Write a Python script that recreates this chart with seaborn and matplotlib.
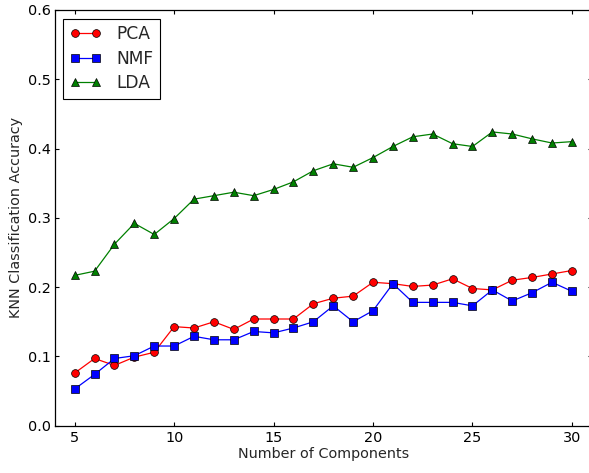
import matplotlib
matplotlib.use('Agg')
import matplotlib.pyplot as plt
import pandas as pd
import seaborn as sns

# Accuracy values
components = list(range(5, 31))
pca = [0.076, 0.097, 0.087, 0.099, 0.106, 0.143, 0.141, 0.150, 0.139, 0.154,
       0.154, 0.154, 0.176, 0.184, 0.187, 0.207, 0.205, 0.201, 0.203, 0.212,
       0.198, 0.196, 0.210, 0.214, 0.219, 0.224]
nmf = [0.053, 0.074, 0.097, 0.101, 0.115, 0.115, 0.129, 0.124, 0.124, 0.136,
       0.134, 0.141, 0.150, 0.173, 0.150, 0.166, 0.205, 0.178, 0.178, 0.178,
       0.173, 0.196, 0.180, 0.192, 0.207, 0.194]
lda = [0.217, 0.223, 0.262, 0.292, 0.276, 0.299, 0.327, 0.332, 0.337, 0.332,
       0.341, 0.352, 0.368, 0.378, 0.373, 0.387, 0.403, 0.417, 0.421, 0.407,
       0.403, 0.424, 0.421, 0.414, 0.408, 0.410]

df = pd.DataFrame({'components': components, 'PCA': pca, 'NMF': nmf, 'LDA': lda})

sns.set_style('white', {'xtick.direction': 'in', 'ytick.direction': 'in',
                        'xtick.top': True, 'ytick.right': True,
                        'xtick.bottom': True, 'ytick.left': True,
                        'axes.edgecolor': 'black'})
plt.rcParams['font.family'] = ['DejaVu Sans']
plt.rcParams['font.size'] = 10.4

fig = plt.figure(figsize=(5.89, 4.73), dpi=100)
ax = fig.add_axes([54.8 / 589, 47.3 / 473, 537 / 589, 415.7 / 473])

styles = [('PCA', 'red', 'o'), ('NMF', 'blue', 's'), ('LDA', 'green', '^')]
for name, col, mk in styles:
    sns.lineplot(data=df, x='components', y=name, color=col, marker=mk,
                 markersize=5.6, markeredgecolor='black', markeredgewidth=0.5,
                 linewidth=0.9, label=name, ax=ax)

ax.set_xlim(4, 31)
ax.set_ylim(0, 0.6)
ax.set_xticks([5, 10, 15, 20, 25, 30])
ax.set_yticks([0.0, 0.1, 0.2, 0.3, 0.4, 0.5, 0.6])
ax.tick_params(axis='both', length=3.2, width=0.8, colors='black', labelsize=10.4)
ax.tick_params(axis='x', pad=3.5)
ax.tick_params(axis='y', pad=2.5)
for s in ax.spines.values():
    s.set_linewidth(0.9)
# the right frame edge falls just outside the cropped picture
ax.spines['right'].set_visible(False)

ax.set_xlabel('Number of Components', fontsize=10.4, labelpad=1.5)
ax.set_ylabel('KNN Classification Accuracy', fontsize=10.4, labelpad=4)

leg = ax.legend(loc='upper left', fontsize=12.3, numpoints=2, handlelength=1.8,
                handletextpad=0.9, borderpad=0.4, labelspacing=0.38,
                borderaxespad=0.5, fancybox=False, framealpha=1)
leg.get_frame().set_edgecolor('black')
leg.get_frame().set_linewidth(0.8)

fig.savefig('out.png', dpi=100)
